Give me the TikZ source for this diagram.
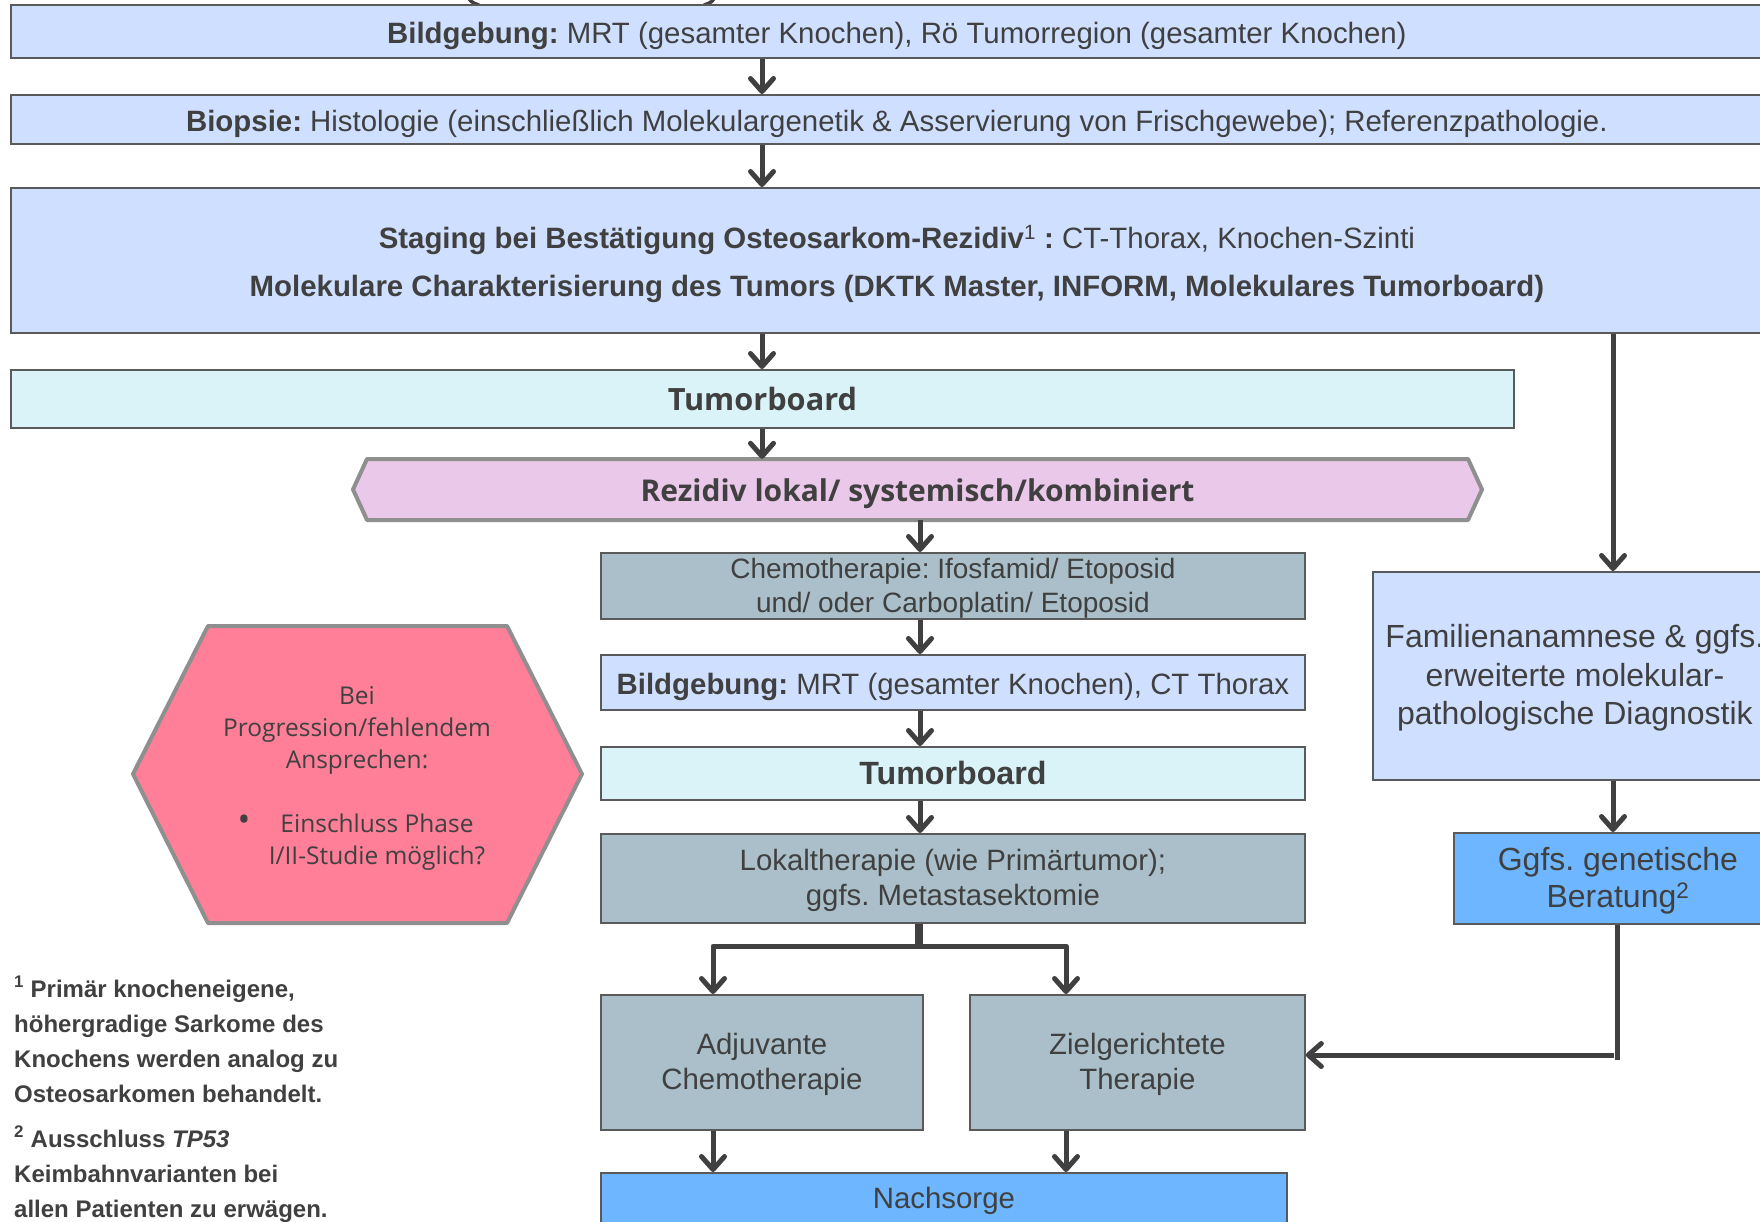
\documentclass[tikz,border=0pt]{standalone}
\usepackage{fontspec}
\setmainfont{Liberation Sans}
\newfontfamily\segoe{Open Sans}
\usetikzlibrary{arrows.meta}
\frenchspacing
\definecolor{lblue}{HTML}{CFDFFF}
\definecolor{lcyan}{HTML}{DAF3F8}
\definecolor{gbox}{HTML}{AABFC9}
\definecolor{mblue}{HTML}{6EB6FF}
\definecolor{pinkf}{HTML}{EAC8E9}
\definecolor{hexr}{HTML}{FF7F98}
\definecolor{bordc}{HTML}{5A5A5A}
\definecolor{txt}{HTML}{404040}
\definecolor{arrc}{HTML}{404040}
\definecolor{grayb}{HTML}{8F8F8F}
\newcommand\sv{\rule[-0.25em]{0pt}{1.15em}}
\newcommand\svb{\rule[-0.25em]{0pt}{1.3em}}
\newcommand\svd{\rule[-0.25em]{0pt}{0.25em}}
\begin{document}
\begin{tikzpicture}[x=1pt,y=-1pt,
  box/.style={draw=bordc, line width=1.8pt, inner sep=0pt, text=txt, align=center, anchor=north west, font=\fontsize{29.4}{35}\selectfont},
  arr/.style={draw=arrc, line width=5pt, -{Straight Barb[length=13pt,width=23pt,round]}},
  arrboth/.style={draw=arrc, line width=5pt, line join=round, {Straight Barb[length=13pt,width=23pt,round]}-{Straight Barb[length=13pt,width=23pt,round]}},
  conn/.style={draw=arrc, line width=5pt},
  fn/.style={anchor=base west, inner sep=0pt, text=txt, font=\bfseries\fontsize{24}{35}\selectfont}
]
\clip (0,0) rectangle (1760,1222);
\fill[white] (0,0) rectangle (1760,1222);
% cut-off shape above the picture
\draw[conn, line width=3.5pt] (467,-6) .. controls (469,1) and (472,3) .. (479,5);
\draw[conn, line width=3.5pt] (716,-6) .. controls (714,1) and (711,3) .. (704,5);
% top column
\node[box, fill=lblue, minimum width=1772, minimum height=53] (b1) at (10,4) {\svb\textbf{Bildgebung:} MRT (gesamter Knochen), Rö Tumorregion (gesamter Knochen)};
\node[box, fill=lblue, minimum width=1772, minimum height=49] (b2) at (10,94) {\svb\textbf{Biopsie:} Histologie (einschließlich Molekulargenetik \& Asservierung von Frischgewebe); Referenzpathologie.};
\node[box, fill=lblue, minimum width=1772, minimum height=145, font=\fontsize{29.4}{48}\selectfont] (b3) at (10,187) {\svb\textbf{Staging bei Bestätigung Osteosarkom-Rezidiv}\textsuperscript{1} \textbf{:} CT-Thorax, Knochen-Szinti\\ \textbf{Molekulare Charakterisierung des Tumors (DKTK Master, INFORM, Molekulares Tumorboard)}\svd};
\node[box, fill=lcyan, minimum width=1503, minimum height=58, font=\segoe\bfseries\fontsize{30.7}{35}\selectfont] (tb1) at (10,369) {Tumorboard};
% Rezidiv
\draw[draw=grayb, fill=pinkf, line width=4pt, line join=round] (367,459) -- (1468,459) -- (1482,489.5) -- (1468,520) -- (367,520) -- (353,489.5) -- cycle;
\node[inner sep=0pt, minimum width=1129, minimum height=61, text=txt, font=\segoe\bfseries\fontsize{30}{36}\selectfont] (rez) at (917.5,489.5) {\svb Rezidiv lokal/ systemisch/kombiniert};
% middle column
\node[box, fill=gbox, minimum width=704, minimum height=63, font=\fontsize{28}{34}\selectfont] (chemo) at (600,552) {\sv Chemotherapie: Ifosfamid/ Etoposid\\und/ oder Carboplatin/ Etoposid\sv};
\node[box, fill=lblue, minimum width=704, minimum height=55] (bild2) at (600,654) {\svb\textbf{Bildgebung:} MRT (gesamter Knochen), CT Thorax};
\node[box, fill=lcyan, minimum width=704, minimum height=53, font=\bfseries\fontsize{32.2}{35}\selectfont] (tb2) at (600,746) {Tumorboard};
\node[box, fill=gbox, minimum width=704, minimum height=89] (lokal) at (600,833) {\sv Lokaltherapie (wie Primärtumor);\\ggfs. Metastasektomie\svd};
\node[box, fill=gbox, minimum width=322, minimum height=135, font=\fontsize{29.4}{35.5}\selectfont] (adj) at (600,994) {\sv Adjuvante\\Chemotherapie\svd};
\node[box, fill=gbox, minimum width=335, minimum height=135, font=\fontsize{29.4}{35.5}\selectfont] (ziel) at (969,994) {\sv Zielgerichtete\\Therapie\svd};
\node[box, fill=mblue, minimum width=686, minimum height=56] (nach) at (600,1172) {Nachsorge};
% right column
\node[box, fill=lblue, minimum width=404, minimum height=208, font=\fontsize{32}{38.5}\selectfont] (fam) at (1372,571) {\sv Familienanamnese \& ggfs.\\erweiterte molekular-\\pathologische Diagnostik\sv};
\node[box, fill=mblue, minimum width=328, minimum height=91, font=\fontsize{32}{37}\selectfont] (ggfs) at (1453,832) {\sv Ggfs. genetische\\Beratung\textsuperscript{2}\svd};
% hexagon
\draw[draw=grayb, fill=hexr, line width=4pt, line join=round] (208,626) -- (507,626) -- (582,774) -- (507,923) -- (208,923) -- (133,774) -- cycle;
\node[text=txt, align=center, inner sep=0pt, font=\segoe\fontsize{24.5}{32}\selectfont] (hex1) at (357,730) {Bei\\Progression/fehlendem\\Ansprechen:};
\node[text=txt, inner sep=0pt, font=\segoe\fontsize{34}{32}\selectfont] (hexbul) at (244,823) {•};
\node[text=txt, align=center, inner sep=0pt, font=\segoe\fontsize{24.5}{32}\selectfont] (hex2) at (377,842) {Einschluss Phase\\I/II-Studie möglich?};
% footnotes
\node[fn] (fa) at (14,997) {\textsuperscript{1} Primär knocheneigene,};
\node[fn] (fb) at (14,1032) {höhergradige Sarkome des};
\node[fn] (fc) at (14,1067) {Knochens werden analog zu};
\node[fn] (fd) at (14,1102) {Osteosarkomen behandelt.};
\node[fn] (fe) at (14,1147) {\textsuperscript{2} Ausschluss \textit{TP53}};
\node[fn] (ff) at (14,1182) {Keimbahnvarianten bei};
\node[fn] (fg) at (14,1217) {allen Patienten zu erwägen.};
% connectors
\coordinate (c1) at (762,0);
\coordinate (c2) at (920,0);
\draw[arr] (b1.south -| c1) -- (b2.north -| c1);
\draw[arr] (b2.south -| c1) -- (b3.north -| c1);
\draw[arr] (b3.south -| c1) -- (tb1.north -| c1);
\draw[arr] (tb1.south -| c1) -- (rez.north -| c1);
\draw[arr] (rez.south -| c2) -- (chemo.north -| c2);
\draw[arr] (chemo.south -| c2) -- (bild2.north -| c2);
\draw[arr] (bild2.south -| c2) -- (tb2.north -| c2);
\draw[arr] (tb2.south -| c2) -- (lokal.north -| c2);
\coordinate (br) at (919,946);
\coordinate (bl) at (713,946);
\coordinate (brr) at (1066,946);
\draw[conn, line width=8pt] (lokal.south -| br) -- (br);
\draw[arrboth] (adj.north -| bl) -- (bl) -- (brr) -- (ziel.north -| brr);
\draw[arr] (adj.south -| bl) -- (nach.north -| bl);
\draw[arr] (ziel.south -| brr) -- (nach.north -| brr);
\coordinate (cr) at (1613,0);
\draw[arr] (b3.south -| cr) -- (fam.north -| cr);
\draw[arr] (fam.south -| cr) -- (ggfs.north -| cr);
\coordinate (gv) at (1617,1060);
\coordinate (gh) at (1614,1055);
\draw[conn] (ggfs.south -| gv) -- (gv);
\draw[arr] (gh) -- (ziel.east |- gh);
\end{tikzpicture}
\end{document}
